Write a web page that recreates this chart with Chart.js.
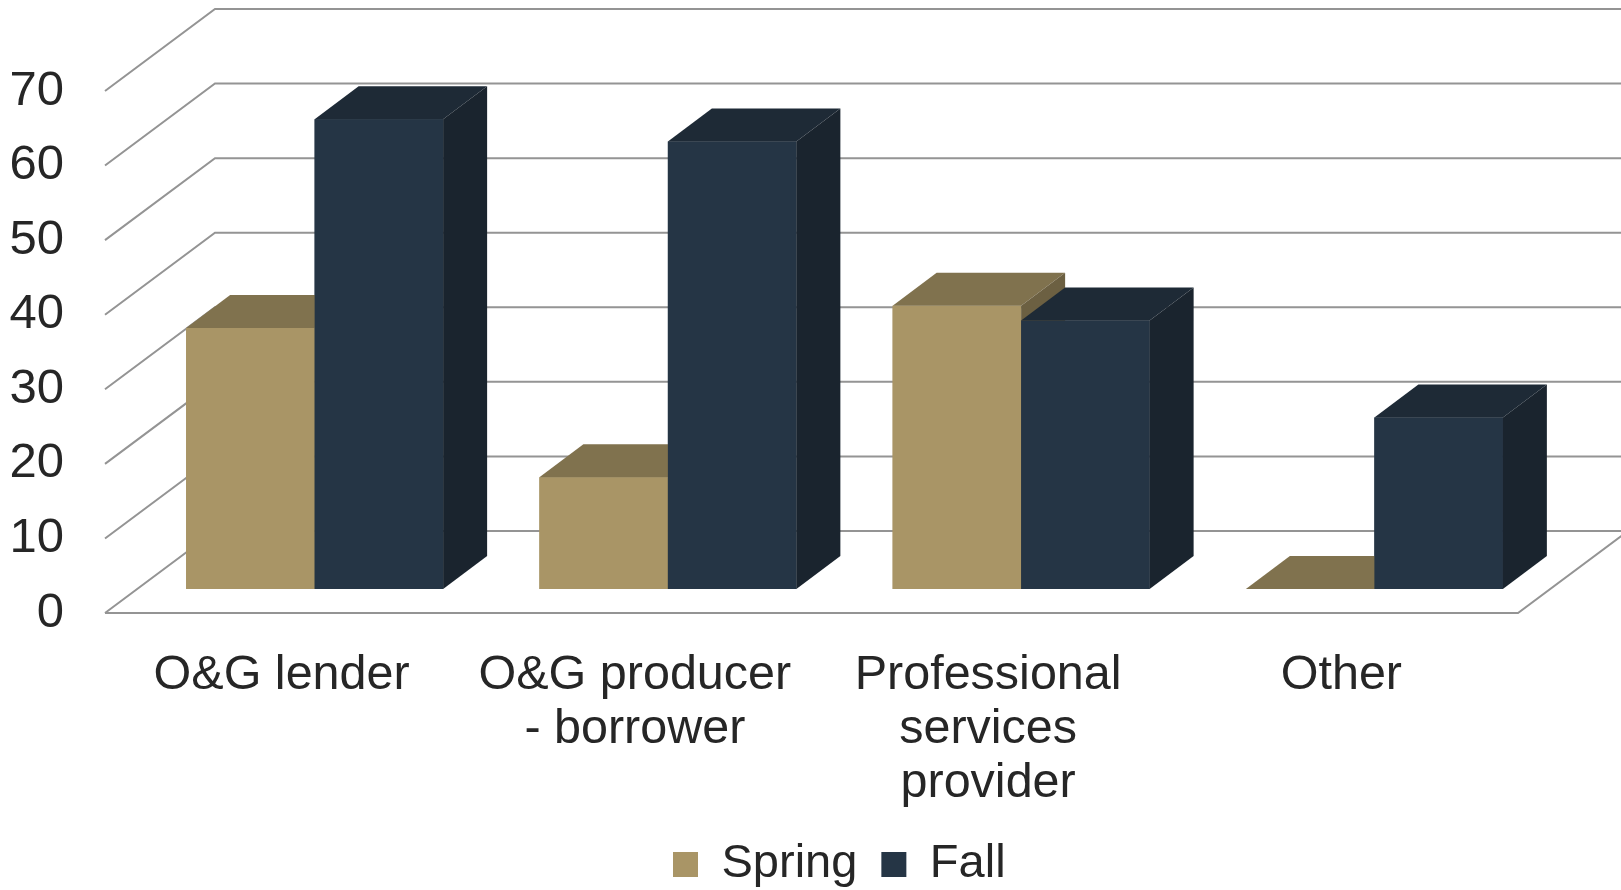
<!DOCTYPE html>
<html>
<head>
<meta charset="utf-8">
<script src="https://cdn.jsdelivr.net/npm/chart.js@4.4.1/dist/chart.umd.min.js"></script>
<style>
  html, body { margin: 0; padding: 0; background: #fff; }
  canvas { display: block; }
</style>
</head>
<body>
<canvas id="chart" width="1621" height="890"></canvas>
<script>
const categories = ['O&G lender', ['O&G producer', '- borrower'], ['Professional', 'services', 'provider'], 'Other'];
const seriesNames = ['Spring', 'Fall'];
const springValues = [35, 15, 38, 0];
const fallValues = [63, 60, 36, 23];
const yMin = 0, yMax = 70, yStep = 10;

const FONT = "'Liberation Sans', Arial, sans-serif";
const TEXT = '#262626';
const GRID = '#949494';

// front, top and side face colours
const springFaces = ['#a99566', '#80724e', '#6c6042'];
const fallFaces = ['#253545', '#1e2a36', '#1a242e'];

// oblique offsets (pixels): back wall, where the bars sit in depth, bar depth
const WALL = { dx: 110, dy: -82 };
const BAR_SHIFT = { dx: 33, dy: -24 };
const BAR_DEPTH = { dx: 44, dy: -33 };
const LEGEND_AT = { x: 673, y: 841 };

const threeD = {
  id: 'threeD',
  afterLayout(chart) {
    // move the legend row to where it sits in the original
    const lg = chart.legend;
    const pad = lg.options.labels.padding;
    const startX = (lg.left + pad + lg.right - lg.lineWidths[0]) / 2;
    const sx = LEGEND_AT.x - startX;
    const sy = LEGEND_AT.y - (lg.top + pad);
    lg.left += sx; lg.right += sx;
    lg.top += sy; lg.bottom += sy;
  },
  beforeDatasetsDraw(chart) {
    const { ctx, chartArea: a, scales: { y } } = chart;
    ctx.save();
    ctx.strokeStyle = GRID;
    ctx.lineWidth = 2;
    y.ticks.forEach(t => {
      const py = y.getPixelForValue(t.value);
      ctx.beginPath();
      ctx.moveTo(a.left, py);
      ctx.lineTo(a.left + WALL.dx, py + WALL.dy);
      ctx.lineTo(chart.width, py + WALL.dy);
      ctx.stroke();
    });
    // floor: front edge and right edge
    const y0 = y.getPixelForValue(0);
    ctx.beginPath();
    ctx.moveTo(a.left, y0);
    ctx.lineTo(a.right, y0);
    ctx.lineTo(a.right + WALL.dx, y0 + WALL.dy);
    ctx.stroke();
    ctx.restore();

    ctx.save();
    ctx.translate(BAR_SHIFT.dx, BAR_SHIFT.dy);
  },
  afterDatasetsDraw(chart) {
    const ctx = chart.ctx;
    const { dx, dy } = BAR_DEPTH;
    chart.data.datasets.forEach((ds, i) => {
      const faces = ds.faces;
      chart.getDatasetMeta(i).data.forEach(bar => {
        const { x, y, base, width } = bar.getProps(['x', 'y', 'base', 'width'], true);
        const l = x - width / 2, r = x + width / 2;
        bar.draw(ctx); // redraw front so it covers the previous series' side
        ctx.fillStyle = faces[1];
        ctx.beginPath();
        ctx.moveTo(l, y); ctx.lineTo(l + dx, y + dy); ctx.lineTo(r + dx, y + dy); ctx.lineTo(r, y);
        ctx.closePath(); ctx.fill();
        ctx.fillStyle = faces[2];
        ctx.beginPath();
        ctx.moveTo(r, y); ctx.lineTo(r + dx, y + dy); ctx.lineTo(r + dx, base + dy); ctx.lineTo(r, base);
        ctx.closePath(); ctx.fill();
      });
    });
    ctx.restore();
  }
};

new Chart(document.getElementById('chart'), {
  type: 'bar',
  data: {
    labels: categories,
    datasets: [
      { label: seriesNames[0], data: springValues, backgroundColor: springFaces[0], faces: springFaces },
      { label: seriesNames[1], data: fallValues, backgroundColor: fallFaces[0], faces: fallFaces }
    ]
  },
  options: {
    responsive: false,
    animation: false,
    layout: { padding: { left: 0, right: 103, top: 91, bottom: 0 } },
    datasets: { bar: { categoryPercentage: 0.7275, barPercentage: 1.0, borderWidth: 0 } },
    scales: {
      x: {
        grid: { display: false, drawTicks: false },
        border: { display: false },
        ticks: { color: TEXT, font: { family: FONT, size: 48.5, lineHeight: 1.12 }, padding: 35, maxRotation: 0, autoSkip: false },
        afterFit: s => { s.height = 196; }
      },
      y: {
        min: yMin, max: yMax,
        grid: { display: false, drawTicks: false },
        border: { display: false },
        ticks: { stepSize: yStep, color: TEXT, font: { family: FONT, size: 49 }, padding: 41 },
        afterFit: s => { s.width = 105; }
      }
    },
    plugins: {
      legend: {
        position: 'bottom',
        labels: { boxWidth: 25, boxHeight: 25, padding: 24, color: TEXT, font: { family: FONT, size: 47 } }
      },
      tooltip: { enabled: false }
    }
  },
  plugins: [threeD]
});
</script>
</body>
</html>
